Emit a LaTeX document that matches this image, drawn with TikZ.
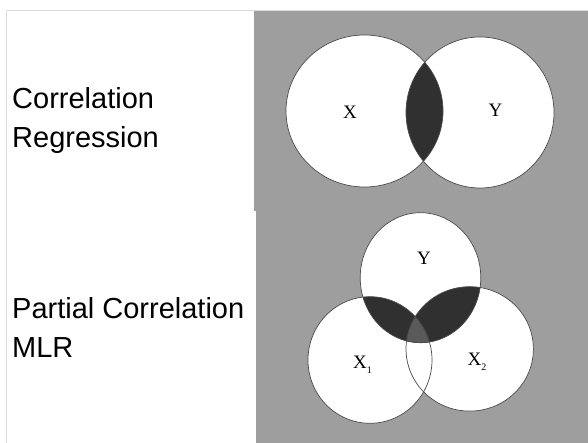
\documentclass[tikz,border=0pt]{standalone}
\usepackage{fontspec}
\setmainfont{Liberation Sans}
\newfontfamily\serifLab{Liberation Serif}
\definecolor{panelgray}{HTML}{9E9E9E}
\definecolor{lensdark}{HTML}{303030}
\definecolor{lensmid}{HTML}{5A5A5A}
\definecolor{framegray}{HTML}{DCDCDC}
\definecolor{rimgray}{HTML}{4A4A4A}
\begin{document}
\begin{tikzpicture}[x=1pt,y=-1pt,
  sidetext/.style={anchor=base west,inner sep=0pt,font=\fontsize{29}{35}\selectfont},
  setlabel/.style={anchor=base,inner sep=0pt,font=\serifLab\fontsize{19}{22}\selectfont},
  setlabelw/.style={anchor=base west,inner sep=0pt,font=\serifLab\fontsize{19}{22}\selectfont},
  rim/.style={draw=rimgray,line width=0.7pt}]
\useasboundingbox (0,0) rectangle (588,443);
\fill[white] (0,0) rectangle (588,443);
% frame
\draw[framegray,line width=1.6pt] (6.5,443) -- (6.5,10.5) -- (588,10.5);
% panels
\fill[panelgray] (254,11.3) rectangle (588,210.7);
\fill[panelgray] (256,210.7) rectangle (588,443);
% side texts
\node[sidetext] (t1) at (12,108.5) {Correlation};
\node[sidetext] (t2) at (12,148) {Regression};
\node[sidetext] (t3) at (12,318.3) {Partial Correlation};
\node[sidetext] (t4) at (12,357.5) {MLR};
% top venn
\fill[white] (364.5,111) ellipse [x radius=78.5pt, y radius=76pt];
\fill[white] (480,112.5) ellipse [x radius=74pt, y radius=75.5pt];
\begin{scope}
  \clip (364.5,111) ellipse [x radius=78.5pt, y radius=76pt];
  \fill[lensdark] (480,112.5) ellipse [x radius=74pt, y radius=75.5pt];
\end{scope}
\draw[rim] (364.5,111) ellipse [x radius=78.5pt, y radius=76pt];
\draw[rim] (480,112.5) ellipse [x radius=74pt, y radius=75.5pt];
\node[setlabel] (lx) at (350,118.3) {X};
\node[setlabel] (ly) at (495.5,116.7) {Y};
% bottom venn
\fill[white] (420.5,277.7) ellipse [x radius=60.3pt, y radius=65pt];
\fill[white] (370,360) ellipse [x radius=62pt, y radius=63.3pt];
\fill[white] (469.7,348.9) ellipse [x radius=63.7pt, y radius=62.2pt];
\begin{scope}
  \clip (420.5,277.7) ellipse [x radius=60.3pt, y radius=65pt];
  \fill[lensdark] (370,360) ellipse [x radius=62pt, y radius=63.3pt];
  \fill[lensdark] (469.7,348.9) ellipse [x radius=63.7pt, y radius=62.2pt];
  \begin{scope}
    \clip (370,360) ellipse [x radius=62pt, y radius=63.3pt];
    \fill[lensmid] (469.7,348.9) ellipse [x radius=63.7pt, y radius=62.2pt];
  \end{scope}
\end{scope}
\draw[rim] (420.5,277.7) ellipse [x radius=60.3pt, y radius=65pt];
\draw[rim] (370,360) ellipse [x radius=62pt, y radius=63.3pt];
\draw[rim] (469.7,348.9) ellipse [x radius=63.7pt, y radius=62.2pt];
\node[setlabel] (by) at (424,265) {Y};
\node[setlabelw] (bx1) at (353,368.3) {X\raisebox{-5pt}{\fontsize{10}{10}\selectfont 1}};
\node[setlabelw] (bx2) at (467.5,365) {X\raisebox{-5pt}{\fontsize{10}{10}\selectfont 2}};
\end{tikzpicture}
\end{document}
